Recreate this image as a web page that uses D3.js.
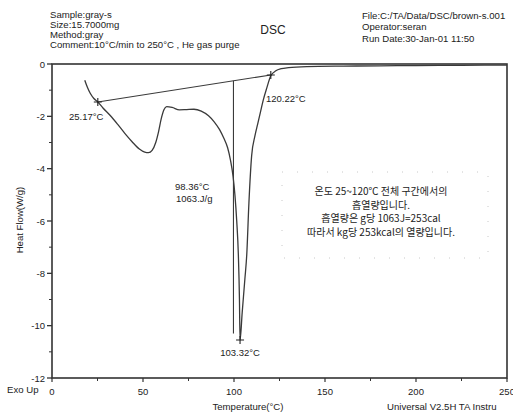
<!DOCTYPE html>
<html>
<head>
	<style>
		body { margin: 0; background: white; }
		svg text { font-family: "Liberation Sans", Arial, sans-serif; fill: #222; }
		.kr { font-family: "Noto Sans CJK KR", sans-serif; }
	</style>
	<script src="https://d3js.org/d3.v7.min.js"></script>
</head>
<body>
	<svg id="chart" width="513" height="414"></svg>

<script>
// header text (left and right blocks)
var headerLeft = ["Sample:gray-s", "Size:15.7000mg", "Method:gray", "Comment:10°C/min to 250°C , He gas purge"];
var headerRight = ["File:C:/TA/Data/DSC/brown-s.001", "Operator:seran", "Run Date:30-Jan-01 11:50"];

// DSC curve: temperature (C) and heat flow (W/g)
var temps = [18, 19.5, 21, 23, 25.17, 28, 32, 36, 40, 44, 48, 51, 53, 55, 57, 58.5, 60, 61.5, 63, 66, 70, 74, 78, 82, 86, 89, 92, 94.5, 96.5, 98, 99.5, 100.5, 101.5, 102.4, 103, 103.32, 104.5, 106, 107, 108.2, 109.7, 111.5, 113, 114.5, 116, 118, 120.22, 123, 126, 130, 140, 160, 180, 200, 225, 250];
var heatFlow = [-0.62, -0.9, -1.12, -1.32, -1.45, -1.68, -1.97, -2.3, -2.65, -2.97, -3.25, -3.37, -3.39, -3.3, -3.0, -2.6, -2.1, -1.75, -1.63, -1.66, -1.75, -1.74, -1.73, -1.8, -1.98, -2.2, -2.5, -2.85, -3.2, -3.65, -4.3, -5.0, -6.0, -7.3, -9.0, -10.55, -9.5, -8.2, -7.3, -5.3, -3.5, -2.75, -2.3, -1.85, -1.4, -0.92, -0.45, -0.26, -0.18, -0.14, -0.1, -0.08, -0.07, -0.06, -0.05, -0.04];

// integration baseline end points and the peak
var baseT = [25.17, 120.22];
var baseHF = [-1.45, -0.42];
var peakT = 103.32, peakHF = -10.55;
var splitT = 99.7, splitBottom = -10.3;

// axis ticks
var xTicks = [0, 50, 100, 150, 200, 250];
var xMinor = [25, 75, 125, 175, 225];
var yTicks = [0, -2, -4, -6, -8, -10, -12];
var yMinor = [-1, -3, -5, -7, -9, -11];

// annotation text
var noteLines = ["온도 25~120℃ 전체 구간에서의", "흡열량입니다.", "흡열량은 g당 1063J=253cal", "따라서 kg당 253kcal의 열량입니다."];

var svg = d3.select("svg#chart");
let margin = { top: 64, right: 6, bottom: 36, left: 52 };
let W = +svg.attr("width"), H = +svg.attr("height");

let x = d3.scaleLinear().domain([0, 250]).range([margin.left, W - margin.right]);
let y = d3.scaleLinear().domain([-12, 0]).range([H - margin.bottom, margin.top]);

// header
let hl = svg.append("g").style("font-size", "9.6px");
headerLeft.forEach(function(t, i){
	hl.append("text").attr("x", 50).attr("y", 17.5 + i*10.3).text(t);
});
headerRight.forEach(function(t, i){
	hl.append("text").attr("x", 362).attr("y", 18.5 + i*11.7).text(t);
});
svg.append("text").attr("x", 273).attr("y", 34).attr("text-anchor", "middle")
	.style("font-size", "12px").text("DSC");

// frame
svg.append("rect")
	.attr("x", x(0)).attr("y", y(0))
	.attr("width", x(250) - x(0)).attr("height", y(-12) - y(0))
	.attr("fill", "none").attr("stroke", "#333").attr("stroke-width", 1.6);

// y ticks
let gy = svg.append("g");
yTicks.forEach(function(v){
	gy.append("line").attr("x1", x(0) - 5).attr("x2", x(0)).attr("y1", y(v)).attr("y2", y(v))
		.attr("stroke", "#333").attr("stroke-width", 1.3);
	gy.append("text").attr("x", x(0) - 7).attr("y", y(v) + 3.5).attr("text-anchor", "end")
		.style("font-size", "9.5px").text(v);
});
yMinor.forEach(function(v){
	gy.append("line").attr("x1", x(0) - 3).attr("x2", x(0)).attr("y1", y(v)).attr("y2", y(v))
		.attr("stroke", "#333").attr("stroke-width", 1);
});

// x ticks
let gx = svg.append("g");
xTicks.forEach(function(v){
	gx.append("line").attr("x1", x(v)).attr("x2", x(v)).attr("y1", y(-12)).attr("y2", y(-12) + 4)
		.attr("stroke", "#333").attr("stroke-width", 1.2);
	gx.append("text").attr("x", x(v)).attr("y", y(-12) + 17).attr("text-anchor", "middle")
		.style("font-size", "9.5px").text(v);
});
xMinor.forEach(function(v){
	gx.append("line").attr("x1", x(v)).attr("x2", x(v)).attr("y1", y(-12)).attr("y2", y(-12) + 3)
		.attr("stroke", "#333").attr("stroke-width", 1);
});

// axis titles
svg.append("text").attr("transform", "translate(23," + 220 + ") rotate(-90)")
	.attr("text-anchor", "middle").style("font-size", "9.6px").text("Heat Flow(W/g)");
svg.append("text").attr("x", 248).attr("y", 410).attr("text-anchor", "middle")
	.style("font-size", "9.6px").text("Temperature(°C)");
svg.append("text").attr("x", 7).attr("y", 393).style("font-size", "9.6px").text("Exo Up");
svg.append("text").attr("x", 387).attr("y", 410).style("font-size", "9.6px").text("Universal V2.5H TA Instru");

// curve
let pts = temps.map(function(t, i){ return [t, heatFlow[i]]; });
let line = d3.line().x(d => x(d[0])).y(d => y(d[1])).curve(d3.curveMonotoneX);
svg.append("path").datum(pts).attr("d", line)
	.attr("fill", "none").attr("stroke", "#3a3a3a").attr("stroke-width", 1.3);

// integration baseline and split line
svg.append("line")
	.attr("x1", x(baseT[0])).attr("y1", y(baseHF[0]))
	.attr("x2", x(baseT[1])).attr("y2", y(baseHF[1]))
	.attr("stroke", "#3a3a3a").attr("stroke-width", 1.1);
let splitTop = baseHF[0] + (splitT - baseT[0]) / (baseT[1] - baseT[0]) * (baseHF[1] - baseHF[0]);
svg.append("line")
	.attr("x1", x(splitT)).attr("y1", y(splitTop))
	.attr("x2", x(splitT)).attr("y2", y(splitBottom))
	.attr("stroke", "#3a3a3a").attr("stroke-width", 1.1);

// + markers
function cross(t, v){
	let cx = x(t), cy = y(v);
	svg.append("path").attr("d", "M" + (cx-4) + "," + cy + "H" + (cx+4) + "M" + cx + "," + (cy-4) + "V" + (cy+4))
		.attr("stroke", "#222").attr("stroke-width", 1.1);
}
cross(baseT[0], baseHF[0]);
cross(baseT[1], baseHF[1]);
cross(peakT, peakHF);

// labels
let lab = svg.append("g").style("font-size", "9.5px");
lab.append("text").attr("x", 69).attr("y", 120).text("25.17°C");
lab.append("text").attr("x", 266).attr("y", 101.5).text("120.22°C");
lab.append("text").attr("x", 175).attr("y", 190).text("98.36°C");
lab.append("text").attr("x", 176).attr("y", 201.5).text("1063.J/g");
lab.append("text").attr("x", x(peakT)).attr("y", 356).attr("text-anchor", "middle").text("103.32°C");

// note box (faint dotted outline in the scan)
svg.append("rect").attr("x", 282).attr("y", 172).attr("width", 206).attr("height", 86)
	.attr("fill", "none").attr("stroke", "#c8c8c8").attr("stroke-width", 1)
	.attr("stroke-dasharray", "1,14");
let ny = [195, 208.5, 222, 235.5];
noteLines.forEach(function(t, i){
	svg.append("text").attr("class", "kr").attr("x", 381).attr("y", ny[i])
		.attr("text-anchor", "middle").style("font-size", "10px").text(t);
});
</script>
</body>
</html>
